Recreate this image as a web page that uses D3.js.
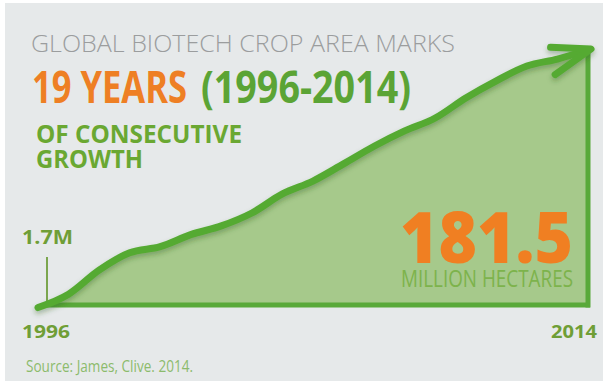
<!DOCTYPE html>
<html lang="en">
<head>
  <meta charset="UTF-8">
  <title>Global Biotech Crop Area</title>
  <script src="https://d3js.org/d3.v7.min.js"></script>
  <style>
    body { margin: 0; background: #fff; }
    svg { display: block; }
    text { font-family: "Open Sans", "Noto Sans", sans-serif; }
  </style>
</head>
<body>
  <div id="chart"></div>
  <script>
    // Data: global biotech crop area, million hectares
    const years = [1996, 1997, 1998, 1999, 2000, 2001, 2002, 2003, 2004, 2005,
                   2006, 2007, 2008, 2009, 2010, 2011, 2012, 2013, 2014];
    const area  = [1.7, 11.0, 27.8, 39.9, 44.2, 52.6, 58.7, 67.7, 81.0, 90.0,
                   102.0, 114.3, 125.0, 134.0, 148.0, 160.0, 170.3, 175.2, 181.5];
    const xTickLabels = ["1996", "2014"];
    const startLabel = "1.7M";
    const endValue = "181.5";

    const W = 603, H = 392;
    const data = years.map((y, i) => ({ year: y, value: area[i] }));

    const svg = d3.select("#chart").append("svg")
      .attr("width", W).attr("height", H);

    // drop shadow under the line
    const defs = svg.append("defs");
    defs.append("filter").attr("id", "shadow")
      .attr("x", "-10%").attr("y", "-10%").attr("width", "120%").attr("height", "130%")
      .append("feDropShadow")
      .attr("dx", 0).attr("dy", 3).attr("stdDeviation", 2.5)
      .attr("flood-color", "#2f5a1c").attr("flood-opacity", 0.35);

    // background panel with white frame
    svg.append("rect").attr("width", W).attr("height", H).attr("fill", "#ffffff");
    svg.append("rect").attr("x", 5).attr("y", 3).attr("width", W - 5).attr("height", 378)
      .attr("fill", "#e6e9ea");

    const x = d3.scaleLinear().domain([1996, 2014]).range([38, 588]);
    const y = d3.scaleLinear().domain([0, 181.5]).range([310, 50]);
    const baseY = 305;

    // filled area
    const areaGen = d3.area()
      .x(d => x(d.year))
      .y0(baseY)
      .y1(d => y(d.value))
      .curve(d3.curveMonotoneX);
    svg.append("path").datum(data)
      .attr("d", areaGen)
      .attr("fill", "#a6c98b");

    // baseline and right edge
    svg.append("line")
      .attr("x1", x(1996) + 9).attr("x2", x(2014) + 2)
      .attr("y1", baseY).attr("y2", baseY)
      .attr("stroke", "#59a93a").attr("stroke-width", 5);
    svg.append("line")
      .attr("x1", x(2014)).attr("x2", x(2014))
      .attr("y1", baseY + 2.5).attr("y2", y(181.5))
      .attr("stroke", "#59a93a").attr("stroke-width", 5);

    // 1.7M tick
    svg.append("line")
      .attr("x1", x(1996) + 9).attr("x2", x(1996) + 9)
      .attr("y1", 257).attr("y2", baseY)
      .attr("stroke", "#6f9f3e").attr("stroke-width", 1.8);

    // the growth line
    const lineGen = d3.line()
      .x(d => x(d.year))
      .y(d => y(d.value))
      .curve(d3.curveMonotoneX);
    const g = svg.append("g").attr("filter", "url(#shadow)");
    g.append("path").datum(data)
      .attr("d", lineGen)
      .attr("fill", "none")
      .attr("stroke", "#55aa33")
      .attr("stroke-width", 7)
      .attr("stroke-linecap", "round")
      .attr("stroke-linejoin", "round");

    // arrowhead
    const last = data[data.length - 1];
    const tipX = x(last.year) + 3, tipY = y(last.value) - 1;
    const ang = Math.atan2(-11, 37);
    const back = Math.PI + ang;
    const arm = 44, spread = 0.33;
    const a1 = [tipX + arm * Math.cos(back - spread), tipY + arm * Math.sin(back - spread)];
    const a2 = [tipX + arm * 0.92 * Math.cos(back + spread), tipY + arm * 0.92 * Math.sin(back + spread)];
    g.append("path")
      .attr("d", `M${a1[0]},${a1[1]} L${tipX},${tipY} L${a2[0]},${a2[1]}`)
      .attr("fill", "none")
      .attr("stroke", "#55aa33")
      .attr("stroke-width", 7)
      .attr("stroke-linecap", "round")
      .attr("stroke-linejoin", "round");

    // headline texts
    function label(txt, px, py, size, weight, color, len, anchor) {
      const t = svg.append("text")
        .attr("x", px).attr("y", py)
        .attr("font-size", size)
        .attr("font-weight", weight)
        .attr("fill", color)
        .attr("text-anchor", anchor || "start")
        .text(txt);
      if (len) t.attr("textLength", len).attr("lengthAdjust", "spacingAndGlyphs");
      return t;
    }

    label("GLOBAL BIOTECH CROP AREA MARKS", 31, 52, 23.5, 300, "#9b9d9e", 424);
    label("19 YEARS", 32, 103, 44, 700, "#ee7f24", 155);
    label("(1996-2014)", 201, 103, 44, 700, "#5ba435", 210);
    label("OF CONSECUTIVE", 36, 143, 25, 700, "#6aa832", 206);
    label("GROWTH", 36, 168, 25, 700, "#6aa832", 107);

    label(startLabel, 22, 244, 19, 700, "#6f9e36", 51);
    label(endValue, 400, 263, 70, 800, "#f07f22", 173);
    label("MILLION HECTARES", 401, 287, 24, 400, "#7db34c", 172);

    label(xTickLabels[0], 22, 338, 17.5, 700, "#6f9e36", 48);
    label(xTickLabels[1], 597, 338, 17.5, 700, "#6f9e36", 46, "end");

    label("Source: James, Clive. 2014.", 26, 372, 17, 400, "#8cbb6c", 167);
  </script>
</body>
</html>
